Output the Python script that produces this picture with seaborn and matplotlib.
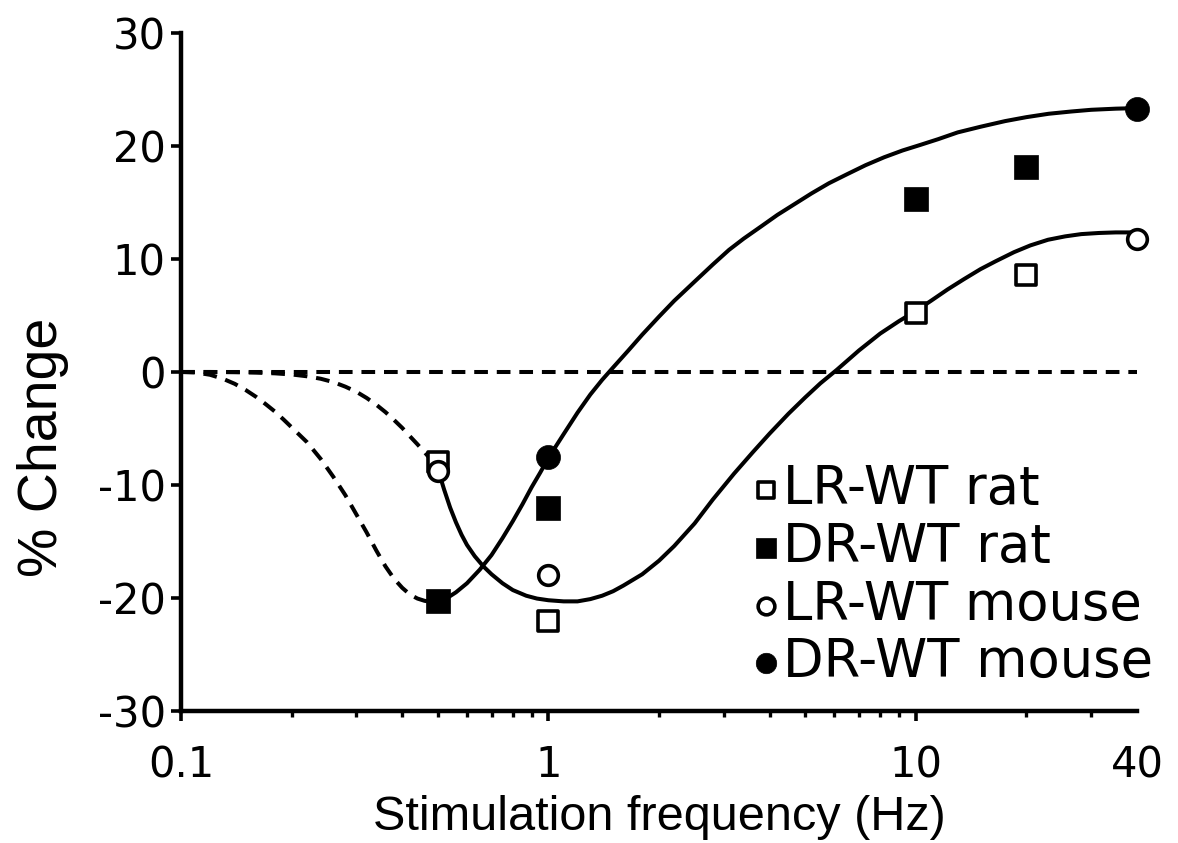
import matplotlib
matplotlib.use("Agg")
import matplotlib.pyplot as plt
import seaborn as sns
import numpy as np
import pandas as pd
from matplotlib.ticker import FixedLocator, NullFormatter

# ---------------- data ----------------
freq = [0.5, 1, 10, 20]
lr_rat = [-8.0, -22.0, 5.2, 8.6]
dr_rat = [-20.3, -12.0, 15.3, 18.1]
freq_mouse = [0.5, 1, 40]
lr_mouse = [-8.8, -18.0, 11.8]
freq_dr_mouse = [1, 40]
dr_mouse = [-7.5, 23.3]

# fitted curves
lr_dash_x = [0.1, 0.12, 0.14, 0.16, 0.18, 0.2, 0.22, 0.24, 0.26, 0.28, 0.30,
             0.32, 0.34, 0.36, 0.38, 0.40, 0.42, 0.44, 0.46, 0.48, 0.5]
lr_dash_y = [0.0, 0.0, -0.02, -0.06, -0.12, -0.22, -0.38, -0.6, -0.9, -1.3, -1.75,
             -2.3, -2.9, -3.55, -4.25, -4.95, -5.7, -6.4, -7.1, -7.8, -8.5]
lr_fit_x = [0.5, 0.51, 0.52, 0.54, 0.56, 0.58, 0.60, 0.63, 0.665, 0.7, 0.75, 0.8,
            0.87, 0.93, 1.0, 1.1, 1.2, 1.3, 1.4, 1.5, 1.6, 1.8, 2.0, 2.2, 2.5,
            2.8, 3.2, 3.6, 4.0, 4.5, 5.0, 5.5, 6.1, 7.0, 8.0, 9.0, 10.0, 11.0,
            12.2, 13.5, 15.0, 16.5, 18.5, 20.5, 22.9, 25.5, 28.2, 31.5, 35.0, 40.0]
lr_fit_y = [-8.6, -9.5, -10.4, -12.0, -13.3, -14.4, -15.3, -16.3, -17.2, -17.9,
            -18.7, -19.3, -19.8, -20.05, -20.2, -20.3, -20.3, -20.1, -19.8, -19.4,
            -18.9, -17.9, -16.7, -15.4, -13.4, -11.3, -9.0, -7.1, -5.45, -3.7,
            -2.25, -1.0, 0.2, 1.9, 3.4, 4.5, 5.4, 6.3, 7.3, 8.2, 9.1, 9.8, 10.6,
            11.2, 11.7, 12.0, 12.2, 12.3, 12.35, 12.35]
dr_dash_x = [0.1, 0.11, 0.12, 0.13, 0.14, 0.15, 0.16, 0.17, 0.18, 0.19, 0.2,
             0.22, 0.24, 0.26, 0.28, 0.30, 0.32, 0.34, 0.36, 0.38, 0.40, 0.42,
             0.44, 0.46, 0.48, 0.5]
dr_dash_y = [0.0, -0.05, -0.25, -0.6, -1.05, -1.6, -2.2, -2.85, -3.5, -4.2, -4.9,
             -6.2, -7.7, -9.3, -10.9, -12.6, -14.2, -15.8, -17.2, -18.3, -19.1,
             -19.7, -20.05, -20.25, -20.35, -20.3]
dr_fit_x = [0.5, 0.53, 0.56, 0.6, 0.65, 0.7, 0.75, 0.8, 0.85, 0.9, 0.95, 1.0,
            1.1, 1.2, 1.3, 1.4, 1.5, 1.65, 1.8, 2.0, 2.2, 2.5, 2.8, 3.1, 3.4,
            3.8, 4.2, 4.7, 5.2, 5.8, 6.5, 7.3, 8.2, 9.2, 10.3, 11.5, 13.0,
            15.0, 17.5, 20.0, 23.0, 26.5, 30.0, 35.0, 40.0]
dr_fit_y = [-20.3, -20.0, -19.5, -18.7, -17.5, -16.2, -14.7, -13.2, -11.7, -10.2,
            -8.9, -7.6, -5.5, -3.6, -2.0, -0.7, 0.4, 1.9, 3.3, 4.9, 6.3, 8.0,
            9.5, 10.8, 11.8, 12.9, 13.9, 14.9, 15.8, 16.7, 17.5, 18.3, 19.0,
            19.6, 20.1, 20.6, 21.2, 21.7, 22.2, 22.55, 22.85, 23.05, 23.2, 23.3, 23.35]
zero_x = [0.1, 40]
zero_y = [0, 0]

labels = ["LR-WT rat", "DR-WT rat", "LR-WT mouse", "DR-WT mouse"]
x_ticks = [0.1, 1, 10, 40]
x_ticklabels = ["0.1", "1", "10", "40"]
x_minor = [0.2, 0.3, 0.4, 0.5, 0.6, 0.7, 0.8, 0.9, 2, 3, 4, 5, 6, 7, 8, 9, 20, 30]
y_ticks = [-30, -20, -10, 0, 10, 20, 30]

# ---------------- style ----------------
sns.set_style("ticks")
plt.rcParams["font.family"] = ["DejaVu Sans"]
for k in ["text.color", "axes.labelcolor", "xtick.color", "ytick.color", "axes.edgecolor"]:
    plt.rcParams[k] = "black"

fig = plt.figure(figsize=(11.78, 8.43), dpi=100)
ax = fig.add_axes([0.1537, 0.1566, 0.8115, 0.8043])

LW = 2.9
dash = (0, (3.4, 2.2))

sns.lineplot(x=zero_x, y=zero_y, ax=ax, color="black", lw=LW, linestyle=dash, estimator=None, sort=False, legend=False)
sns.lineplot(x=lr_dash_x, y=lr_dash_y, ax=ax, color="black", lw=LW, linestyle=dash, estimator=None, sort=False, legend=False)
sns.lineplot(x=dr_dash_x, y=dr_dash_y, ax=ax, color="black", lw=LW, linestyle=dash, estimator=None, sort=False, legend=False)
sns.lineplot(x=lr_fit_x, y=lr_fit_y, ax=ax, color="black", lw=LW, estimator=None, sort=False, legend=False)
sns.lineplot(x=dr_fit_x, y=dr_fit_y, ax=ax, color="black", lw=LW, estimator=None, sort=False, legend=False)

sns.scatterplot(x=freq, y=lr_rat, ax=ax, marker="s", s=200, facecolor="white",
                edgecolor="black", linewidth=2.6, zorder=5, label=labels[0], clip_on=False)
sns.scatterplot(x=freq, y=dr_rat, ax=ax, marker="s", s=300, facecolor="black",
                edgecolor="black", linewidth=0.5, zorder=5, label=labels[1], clip_on=False)
sns.scatterplot(x=freq_mouse, y=lr_mouse, ax=ax, marker="o", s=200, facecolor="white",
                edgecolor="black", linewidth=2.6, zorder=6, label=labels[2], clip_on=False)
sns.scatterplot(x=freq_dr_mouse, y=dr_mouse, ax=ax, marker="o", s=300, facecolor="black",
                edgecolor="black", linewidth=0.5, zorder=6, label=labels[3], clip_on=False)

ax.set_xscale("log")
ax.set_xlim(0.1, 40)
ax.set_ylim(-30, 30)
ax.xaxis.set_major_locator(FixedLocator(x_ticks))
ax.set_xticklabels(x_ticklabels)
ax.xaxis.set_minor_locator(FixedLocator(x_minor))
ax.xaxis.set_minor_formatter(NullFormatter())
ax.set_yticks(y_ticks)
ax.set_yticklabels([str(v) for v in y_ticks])

for s in ["top", "right"]:
    ax.spines[s].set_visible(False)
for s in ["left", "bottom"]:
    ax.spines[s].set_linewidth(3.2)
    ax.spines[s].set_color("black")
    ax.spines[s].set_capstyle("projecting")

ax.tick_params(axis="both", which="major", direction="out", length=7, width=2.6,
               labelsize=30, colors="black")
ax.tick_params(axis="x", which="major", pad=17)
ax.tick_params(axis="y", which="major", pad=4)
ax.tick_params(axis="x", which="minor", direction="out", length=4.5, width=2.4, colors="black")
ax.xaxis.get_major_ticks()[-1].tick1line.set_visible(False)

ax.set_xlabel("Stimulation frequency (Hz)", fontsize=35, family=["Liberation Sans", "DejaVu Sans"], labelpad=6)
ax.set_ylabel("% Change", fontsize=40, family=["Liberation Sans", "DejaVu Sans"])
ax.yaxis.set_label_coords(-0.117, 0.389)

leg = ax.legend(frameon=False, loc="upper left", bbox_to_anchor=(0.598, 0.366),
                borderaxespad=0, borderpad=0, handletextpad=0.07, handlelength=0.5,
                labelspacing=0.11, fontsize=38, markerscale=0.85)

fig.savefig("out.png", dpi=100)
